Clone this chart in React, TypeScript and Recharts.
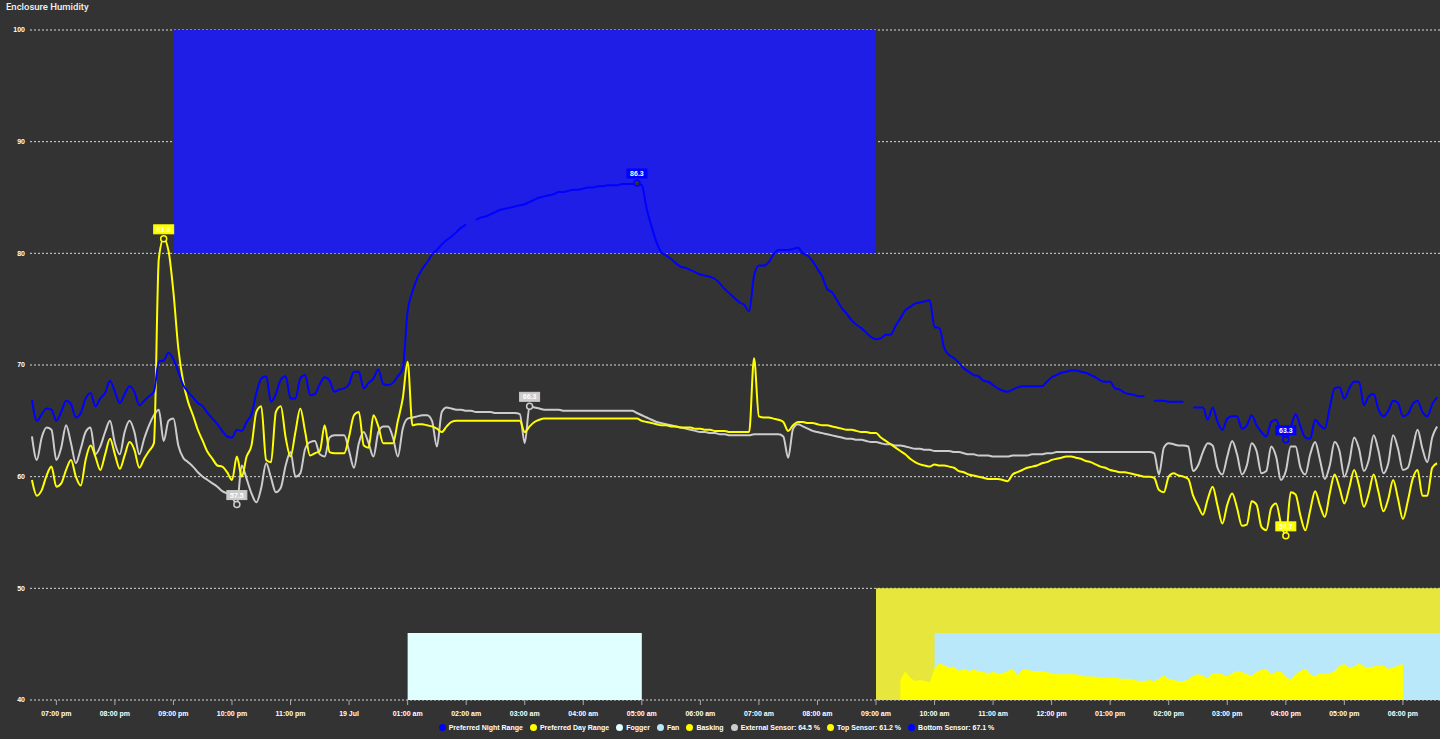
import React from "react";
import {
  ComposedChart,
  Line,
  Area,
  XAxis,
  YAxis,
  CartesianGrid,
  ReferenceArea,
  ReferenceDot,
} from "recharts";

// sensor readings every 5 minutes, starting 06:35 pm
const stepMinutes = 5;

const externalSensor = [
  63.6, 61.5, 63.5, 64.4, 64.2, 61.5, 62.6, 64.6, 63.0, 61.2,
  62.5, 64.0, 64.4, 62.0, 62.7, 64.0, 65.0, 63.0, 62.0, 64.0,
  65.0, 64.0, 62.0, 63.4, 64.6, 65.5, 66.0, 63.2, 65.0, 65.2,
  62.8, 61.7, 61.3, 60.9, 60.4, 60.0, 59.7, 59.4, 59.1, 58.7,
  58.5, 58.2, 57.5, 61.0, 59.8, 58.5, 57.7, 59.0, 61.2, 59.9,
  58.6, 59.0, 61.0, 62.2, 60.0, 60.3, 62.5, 63.1, 63.2, 62.0,
  61.8, 63.5, 63.7, 63.7, 63.7, 62.3, 60.8, 63.0, 64.0, 63.0,
  61.8, 64.0, 64.5, 64.5, 63.5, 61.8, 64.3, 65.2, 65.3, 65.4,
  65.5, 65.5, 65.0, 62.7, 65.8, 66.2, 66.1, 66.0, 66.0, 65.9,
  65.9, 65.8, 65.8, 65.8, 65.8, 65.7, 65.7, 65.7, 65.7, 65.7,
  65.6, 63.0, 66.3, 66.2, 66.1, 66.0, 66.0, 66.0, 66.0, 65.9,
  65.9, 65.9, 65.9, 65.9, 65.9, 65.9, 65.9, 65.9, 65.9, 65.9,
  65.9, 65.9, 65.9, 65.9, 65.7, 65.5, 65.3, 65.1, 64.9, 64.8,
  64.7, 64.6, 64.5, 64.4, 64.3, 64.2, 64.1, 64.0, 64.0, 63.9,
  63.9, 63.8, 63.8, 63.7, 63.7, 63.7, 63.7, 63.7, 63.8, 63.8,
  63.8, 63.8, 63.8, 63.8, 63.6, 61.7, 64.3, 64.7, 64.5, 64.3,
  64.1, 64.0, 63.9, 63.8, 63.7, 63.6, 63.5, 63.4, 63.4, 63.3,
  63.3, 63.2, 63.1, 63.1, 63.0, 62.9, 62.9, 62.8, 62.8, 62.7,
  62.6, 62.5, 62.5, 62.4, 62.4, 62.3, 62.3, 62.3, 62.3, 62.2,
  62.2, 62.1, 62.0, 62.0, 61.9, 61.9, 61.9, 61.8, 61.8, 61.8,
  61.8, 61.9, 61.9, 61.9, 61.9, 62.0, 62.0, 62.0, 62.1, 62.1,
  62.2, 62.2, 62.2, 62.2, 62.2, 62.2, 62.2, 62.2, 62.2, 62.2,
  62.2, 62.2, 62.2, 62.2, 62.2, 62.2, 62.2, 62.2, 62.2, 62.2,
  62.1, 60.2, 62.6, 63.0, 62.9, 62.8, 62.8, 62.7, 60.5, 61.0,
  62.2, 63.0, 62.8, 60.8, 60.2, 61.8, 63.2, 62.0, 60.2, 61.0,
  63.0, 62.3, 60.3, 60.5, 62.7, 61.8, 59.7, 60.5, 62.7, 62.7,
  60.8, 60.2, 62.0, 63.1, 61.5, 59.8, 61.0, 63.1, 62.3, 60.0,
  61.3, 63.5, 62.5, 60.5, 61.5, 63.7, 62.3, 60.3, 61.2, 63.7,
  62.5, 60.6, 60.8, 62.5, 64.2, 62.5, 61.3, 63.5, 64.5,
];

const topSensor = [
  59.7, 58.3, 58.8, 60.1, 60.9, 59.1, 59.4, 60.6, 61.5, 60.0,
  59.2, 61.5, 62.8, 61.8, 60.6, 62.0, 63.4, 62.0, 60.7, 61.9,
  63.1, 62.4, 60.8, 61.6, 62.3, 63.0, 79.5, 81.3, 80.2, 76.5,
  71.5, 68.5, 66.7, 65.5, 64.2, 63.2, 62.2, 61.6, 61.0, 60.9,
  60.4, 59.7, 61.8, 60.0, 61.8, 62.8, 65.8, 66.3, 61.5, 61.3,
  65.8, 66.3, 63.5, 61.8, 64.0, 66.1, 64.0, 61.9, 62.1, 62.3,
  64.6, 62.2, 62.1, 62.1, 62.1, 63.6, 65.5, 65.8, 62.8, 62.6,
  65.5, 64.5, 63.0, 63.0, 63.0, 65.0, 67.0, 70.3, 64.6, 64.7,
  64.7, 64.6, 64.5, 64.3, 64.0, 64.5, 64.9, 65.0, 65.0, 65.0,
  65.0, 65.0, 65.0, 65.0, 65.0, 65.0, 65.0, 65.0, 65.0, 65.0,
  65.0, 64.0, 64.5, 64.9, 65.1, 65.2, 65.2, 65.2, 65.2, 65.2,
  65.2, 65.2, 65.2, 65.2, 65.2, 65.2, 65.2, 65.2, 65.2, 65.2,
  65.2, 65.2, 65.2, 65.2, 65.2, 65.0, 64.9, 64.8, 64.7, 64.6,
  64.6, 64.5, 64.5, 64.4, 64.4, 64.4, 64.3, 64.3, 64.2, 64.2,
  64.1, 64.1, 64.1, 64.0, 64.0, 64.0, 64.0, 64.0, 70.6, 65.4,
  65.3, 65.3, 65.2, 65.1, 64.9, 64.1, 64.6, 64.9, 64.9, 64.8,
  64.8, 64.7, 64.6, 64.6, 64.5, 64.4, 64.3, 64.2, 64.2, 64.1,
  64.0, 64.0, 63.9, 63.9, 63.5, 63.2, 62.9, 62.6, 62.3, 62.0,
  61.6, 61.3, 61.1, 61.0, 60.9, 61.1, 61.0, 61.0, 60.9, 60.8,
  60.5, 60.4, 60.2, 60.1, 60.0, 59.9, 59.8, 59.8, 59.8, 59.7,
  59.6, 60.2, 60.4, 60.6, 60.8, 60.9, 61.0, 61.2, 61.3, 61.5,
  61.6, 61.7, 61.8, 61.8, 61.7, 61.6, 61.4, 61.3, 61.1, 60.9,
  60.8, 60.6, 60.5, 60.4, 60.4, 60.3, 60.2, 60.1, 60.0, 60.0,
  59.9, 58.8, 58.6, 60.0, 60.3, 60.1, 60.0, 59.8, 58.3, 57.4,
  56.6, 58.0, 59.1, 57.4, 55.8, 57.5, 58.5, 57.2, 55.6, 55.7,
  57.8, 57.5, 55.5, 55.2, 57.2, 57.6, 55.8, 54.7, 58.6, 58.4,
  56.5, 55.2, 57.0, 58.7, 57.4, 56.4, 58.5, 60.2, 59.0, 57.6,
  59.0, 60.6, 59.2, 57.3, 58.5, 60.2, 58.6, 56.9, 58.0, 59.7,
  58.0, 56.2, 57.8, 59.8, 60.6, 58.3, 58.3, 60.8, 61.2,
];

// null = no reading logged
const bottomSensor = [
  66.9, 65.0, 65.6, 66.1, 66.0, 65.0, 65.8, 66.8, 66.5, 65.3,
  65.7, 67.0, 67.5, 66.3, 67.0, 67.5, 68.6, 67.6, 66.6, 67.4,
  68.1, 67.6, 66.4, 66.8, 67.2, 67.6, 70.3, 70.4, 71.1, 70.5,
  69.4, 68.2, 67.6, 67.1, 66.6, 66.3, 65.7, 65.2, 64.7, 64.1,
  63.6, 63.5, 64.2, 64.1, 64.9, 65.6, 67.5, 68.8, 69.0, 66.7,
  67.4, 68.7, 69.0, 67.0, 67.0, 68.8, 69.1, 67.3, 67.4, 68.3,
  68.9, 68.6, 67.6, 67.8, 67.9, 68.3, 69.4, 69.4, 67.9, 68.4,
  68.8, 69.6, 68.3, 68.2, 68.4, 69.0, 69.7, 74.8, 76.6, 77.8,
  78.6, 79.2, 79.9, 80.3, 80.8, 81.2, 81.5, 81.9, 82.3, 82.6,
  null, 83.0, 83.2, 83.3, 83.5, 83.7, 83.9, 84.0, 84.1, 84.2,
  84.3, 84.4, 84.6, 84.8, 85.0, 85.1, 85.2, 85.3, 85.5, 85.5,
  85.6, 85.7, 85.7, 85.8, 85.9, 85.9, 86.0, 86.0, 86.1, 86.1,
  86.1, 86.2, 86.2, 86.2, 86.3, 86.1, 84.0, 82.4, 81.0, 80.1,
  79.8, 79.5, 79.1, 78.8, 78.7, 78.5, 78.3, 78.1, 78.0, 77.9,
  77.7, 77.3, 76.8, 76.4, 76.0, 75.6, 75.4, 74.8, 78.0, 78.9,
  78.9, 79.2, 79.9, 80.3, 80.3, 80.3, 80.4, 80.5, 80.0, 79.8,
  79.3, 78.6, 77.9, 76.8, 76.5, 75.8, 75.1, 74.6, 74.0, 73.6,
  73.3, 72.9, 72.5, 72.3, 72.4, 72.7, 72.7, 73.5, 74.2, 74.9,
  75.2, 75.5, 75.6, 75.7, 75.8, 73.4, 73.3, 71.5, 70.9, 70.6,
  70.2, 69.7, 69.4, 69.1, 69.0, 68.6, 68.5, 68.2, 67.9, 67.7,
  67.6, 67.8, 68.0, 68.1, 68.1, 68.1, 68.1, 68.1, 68.5, 68.9,
  69.1, 69.3, 69.4, 69.5, 69.5, 69.4, 69.3, 69.1, 68.9, 68.6,
  68.5, 68.5, 67.9, 67.8, 67.5, 67.4, 67.3, 67.2, 67.2, null,
  66.8, 66.8, 66.8, 66.7, 66.7, 66.7, 66.7, null, 66.2, 66.2,
  66.2, 65.1, 66.2, 64.9, 64.2, 65.2, 65.4, 65.4, 64.3, 64.6,
  65.5, 64.6, 64.0, 63.6, 64.9, 65.1, 64.0, 63.3, 64.4, 65.6,
  64.5, 63.5, 63.4, 65.1, 64.6, 64.3, 66.2, 67.9, 68.0, 67.0,
  67.9, 68.5, 68.5, 66.4, 67.2, 67.4, 66.0, 65.4, 65.9, 66.8,
  66.6, 65.4, 65.6, 66.5, 66.8, 65.8, 65.4, 66.5, 67.1,
];

// basking lamp level, from sample 178 (09:25 am) on
const baskingStart = 178;
const basking = [
  41.8, 42.6, 42.0, 41.7, 41.8, 41.7, 41.6, 42.8, 43.3, 43.1,
  42.9, 43.0, 42.6, 42.8, 42.6, 42.7, 42.6, 42.5, 42.4, 42.5,
  42.4, 42.4, 42.6, 42.8, 42.2, 42.7, 42.7, 42.6, 42.6, 42.6,
  42.5, 42.4, 42.3, 42.3, 42.3, 42.3, 42.3, 42.2, 42.1, 42.1,
  42.1, 42.0, 42.0, 42.0, 42.0, 41.9, 41.9, 41.9, 41.8, 41.7,
  41.7, 41.8, 41.7, 41.9, 42.2, 41.9, 41.8, 41.7, 41.7, 41.8,
  42.2, 42.3, 42.2, 41.9, 42.4, 42.4, 42.3, 42.1, 42.4, 42.6,
  42.5, 42.3, 42.2, 42.5, 42.7, 42.8, 42.3, 42.5, 42.6, 42.1,
  41.8, 42.3, 42.6, 42.8, 42.3, 42.1, 42.4, 42.3, 42.4, 42.6,
  43.1, 43.2, 42.9, 43.0, 43.3, 43.0, 42.9, 43.0, 43.1, 43.1,
  42.8, 42.9, 43.1, 43.2,
];

// minutes after 06:35 pm
const xDomain = [-2, 1443];
const hourTicks = [
  25, 85, 145, 205, 265, 325, 385, 445, 505, 565, 625, 685,
  745, 805, 865, 925, 985, 1045, 1105, 1165, 1225, 1285, 1345, 1405,
];
const hourLabels = [
  "07:00 pm", "08:00 pm", "09:00 pm", "10:00 pm", "11:00 pm", "19 Jul",
  "01:00 am", "02:00 am", "03:00 am", "04:00 am", "05:00 am", "06:00 am",
  "07:00 am", "08:00 am", "09:00 am", "10:00 am", "11:00 am", "12:00 pm",
  "01:00 pm", "02:00 pm", "03:00 pm", "04:00 pm", "05:00 pm", "06:00 pm",
];
const yTicks = [40, 50, 60, 70, 80, 90, 100];

// schedule blocks: [from, to] minutes, [low, high] humidity
const nightRange = [145, 865, 80, 100];
const dayRange = [865, 1443, 40, 50];
const foggerOn = [385, 625, 40, 46];
const fanOn = [925, 1443, 40, 46];

const C = {
  bg: "#333333",
  night: "#1e1ee6",
  day: "#e6e63c",
  fogger: "#e0ffff",
  fan: "#b9e8fb",
  basking: "#ffff00",
  external: "#cccccc",
  top: "#ffff00",
  bottom: "#0000ff",
  text: "#ffffff",
};
const FONT = "Helvetica, Arial, 'Liberation Sans', sans-serif";

const rows = externalSensor.map((v, i) => ({
  t: i * stepMinutes,
  external: v,
  top: topSensor[i],
  bottom: bottomSensor[i],
  basking:
    i >= baskingStart && i < baskingStart + basking.length
      ? basking[i - baskingStart]
      : null,
}));

const lastOf = (arr) => arr.filter((v) => v != null).slice(-1)[0];

const extremes = (key, arr, color) => {
  const vals = arr.filter((v) => v != null);
  const hi = Math.max(...vals);
  const lo = Math.min(...vals);
  return [
    { x: arr.indexOf(hi) * stepMinutes, y: hi, color, key: key + "max" },
    { x: arr.indexOf(lo) * stepMinutes, y: lo, color, key: key + "min" },
  ];
};

const markers = [
  ...extremes("ext", externalSensor, C.external),
  ...extremes("top", topSensor, C.top),
  ...extremes("bot", bottomSensor, C.bottom),
];

const markerShape = (color, text) => (p) => (
  <g>
    <rect x={p.cx - 10} y={p.cy - 14} width={20} height={9} fill={color} stroke={color} />
    <text
      x={p.cx}
      y={p.cy - 7}
      textAnchor="middle"
      fill="#fff"
      fontSize={7}
      fontWeight="bold"
      fontFamily={FONT}
    >
      {text}
    </text>
    <circle cx={p.cx} cy={p.cy} r={3} fill={C.bg} stroke={color} strokeWidth={1.5} />
  </g>
);

const legendItems = [
  { label: "Preferred Night Range", color: C.bottom },
  { label: "Preferred Day Range", color: C.top },
  { label: "Fogger", color: C.fogger },
  { label: "Fan", color: C.fan },
  { label: "Basking", color: C.basking },
  { label: "External Sensor: ", value: lastOf(externalSensor), color: C.external },
  { label: "Top Sensor: ", value: lastOf(topSensor), color: C.top },
  { label: "Bottom Sensor: ", value: lastOf(bottomSensor), color: C.bottom },
];

const band = (b, color) => (
  <ReferenceArea
    x1={b[0]}
    x2={b[1]}
    y1={b[2]}
    y2={b[3]}
    fill={color}
    fillOpacity={1}
    stroke="none"
    ifOverflow="hidden"
  />
);

export default function App() {
  const tickStyle = { fill: C.text, fontSize: 7, fontWeight: "bold", fontFamily: FONT };
  return (
    <div
      style={{
        position: "fixed",
        left: 0,
        top: 0,
        width: 1440,
        height: 739,
        background: C.bg,
        overflow: "hidden",
        fontFamily: FONT,
      }}
    >
      <ComposedChart
        width={1440}
        height={739}
        data={rows}
        margin={{ top: 30, right: 0, bottom: 19, left: 0 }}
      >
        {band(nightRange, C.night)}
        {band(dayRange, C.day)}
        {band(foggerOn, C.fogger)}
        {band(fanOn, C.fan)}
        <CartesianGrid vertical={false} stroke="#d8d8d8" strokeDasharray="2 2" />
        <XAxis
          dataKey="t"
          type="number"
          domain={xDomain}
          ticks={hourTicks}
          tickFormatter={(v) => hourLabels[hourTicks.indexOf(v)]}
          allowDataOverflow
          axisLine={false}
          tickLine={{ stroke: "#aaaaaa" }}
          tickSize={5}
          tickMargin={6}
          height={20}
          tick={tickStyle}
          interval={0}
        />
        <YAxis
          type="number"
          domain={[40, 100]}
          ticks={yTicks}
          axisLine={false}
          tickLine={false}
          tickSize={0}
          tickMargin={5}
          width={30}
          tick={tickStyle}
          allowDataOverflow
        />
        <Area
          dataKey="basking"
          type="linear"
          stroke="none"
          fill={C.basking}
          fillOpacity={1}
          baseValue={40}
          isAnimationActive={false}
        />
        <Line dataKey="external" type="monotone" stroke={C.external} strokeWidth={2} dot={false} isAnimationActive={false} />
        <Line dataKey="top" type="monotone" stroke={C.top} strokeWidth={2} dot={false} isAnimationActive={false} />
        <Line dataKey="bottom" type="monotone" stroke={C.bottom} strokeWidth={2} dot={false} isAnimationActive={false} />
        {markers.map((m) => (
          <ReferenceDot
            key={m.key}
            x={m.x}
            y={m.y}
            r={3}
            shape={markerShape(m.color, m.y.toFixed(1))}
          />
        ))}
      </ComposedChart>
      <div
        style={{
          position: "absolute",
          left: 6,
          top: 1,
          color: "#f2f2f2",
          fontSize: 9.5,
          lineHeight: "12px",
          fontWeight: 500,
          fontFamily: "Roboto, sans-serif",
        }}
      >
        Enclosure Humidity
      </div>
      <div
        style={{
          position: "absolute",
          left: 0,
          top: 722,
          width: 1440,
          height: 10,
          display: "flex",
          justifyContent: "center",
          alignItems: "center",
          fontSize: 7,
          fontWeight: "bold",
          color: C.text,
        }}
      >
        {legendItems.map((it) => (
          <span key={it.label} style={{ display: "flex", alignItems: "center", marginRight: 7 }}>
            <span
              style={{
                width: 7,
                height: 7,
                borderRadius: "50%",
                background: it.color,
                marginRight: 3,
                display: "inline-block",
              }}
            />
            <span>
              {it.label}
              {it.value != null ? it.value.toFixed(1) + " %" : ""}
            </span>
          </span>
        ))}
      </div>
    </div>
  );
}
